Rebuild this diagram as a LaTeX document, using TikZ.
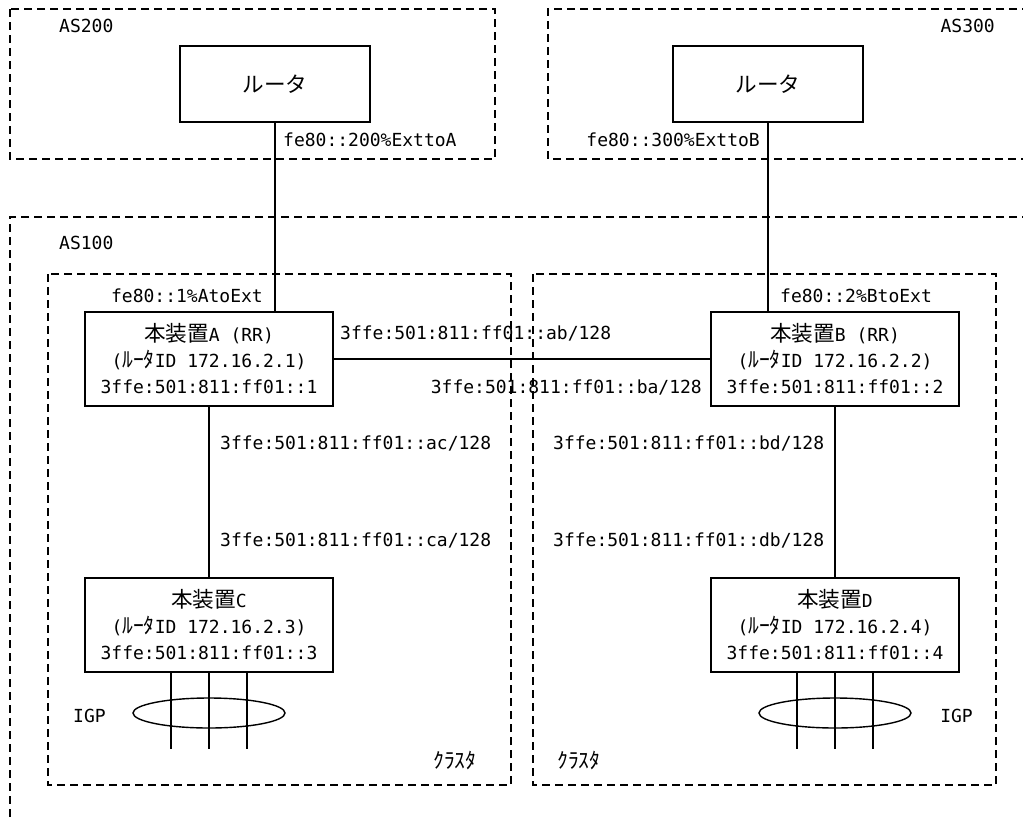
\documentclass[tikz,border=0pt]{standalone}
\usepackage{fontspec}
\setmainfont{DejaVu Sans Mono}
\newfontfamily\jp[Scale=1.2]{Noto Sans CJK JP}
\usetikzlibrary{shapes.geometric}
\begin{document}
\begin{tikzpicture}[x=1pt, y=-1pt, font=\fontsize{18}{26}\selectfont,
    box/.style={draw, line width=1.7pt, align=center, inner sep=0pt, minimum width=248pt, minimum height=94pt},
    router/.style={draw, line width=1.7pt, inner sep=0pt, minimum width=190pt, minimum height=76pt},
    area/.style={draw, line width=1.6pt, dash pattern=on 8pt off 5pt},
    link/.style={draw, line width=1.6pt},
    lbl/.style={inner sep=0pt}]
    \useasboundingbox (0,0) rectangle (1023,820);

    % AS areas
    \draw[area] (10,9) rectangle (495,159);
    \draw[area] (1030,9) -- (548,9) -- (548,159) -- (1030,159);
    \draw[area] (1030,217) -- (10,217) -- (10,830);
    \node[lbl, anchor=west] (as200) at (59,26) {AS200};
    \node[lbl, anchor=east] (as300) at (995,26) {AS300};
    \node[lbl, anchor=west] (as100) at (59,243) {AS100};

    % Clusters
    \draw[area] (48,274) rectangle (511,785);
    \draw[area] (533,274) rectangle (996,785);
    \node[lbl, anchor=west] (clusterL) at (433,760) {\jp ｸﾗｽﾀ};
    \node[lbl, anchor=west] (clusterR) at (557,760) {\jp ｸﾗｽﾀ};

    % Routers
    \node[router] (R200) at (275,84) {\jp ルータ};
    \node[router] (R300) at (768,84) {\jp ルータ};
    \node[box] (A) at (209,359) {{\jp 本装置}A (RR)\\({\jp ﾙｰﾀ}ID 172.16.2.1)\\3ffe:501:811:ff01::1};
    \node[box] (B) at (835,359) {{\jp 本装置}B (RR)\\({\jp ﾙｰﾀ}ID 172.16.2.2)\\3ffe:501:811:ff01::2};
    \node[box] (C) at (209,625) {{\jp 本装置}C\\({\jp ﾙｰﾀ}ID 172.16.2.3)\\3ffe:501:811:ff01::3};
    \node[box] (D) at (835,625) {{\jp 本装置}D\\({\jp ﾙｰﾀ}ID 172.16.2.4)\\3ffe:501:811:ff01::4};

    % Links
    \draw[link] (R200.south) -- (R200.south |- A.north);
    \draw[link] (R300.south) -- (R300.south |- B.north);
    \draw[link] (A.east) -- (B.west);
    \draw[link] (A.south) -- (C.north);
    \draw[link] (B.south) -- (D.north);

    % Interface addresses
    \node[lbl, anchor=west] (extA) at (283,140) {fe80::200\%ExttoA};
    \node[lbl, anchor=east] (extB) at (760,140) {fe80::300\%ExttoB};
    \node[lbl, anchor=east] (aExt) at (263,296) {fe80::1\%AtoExt};
    \node[lbl, anchor=west] (bExt) at (780,296) {fe80::2\%BtoExt};
    \node[lbl, anchor=west] (ab) at (340,333) {3ffe:501:811:ff01::ab/128};
    \node[lbl, anchor=east] (ba) at (702,387) {3ffe:501:811:ff01::ba/128};
    \node[lbl, anchor=west] (ac) at (220,443) {3ffe:501:811:ff01::ac/128};
    \node[lbl, anchor=west] (ca) at (220,540) {3ffe:501:811:ff01::ca/128};
    \node[lbl, anchor=west] (bd) at (553,443) {3ffe:501:811:ff01::bd/128};
    \node[lbl, anchor=west] (db) at (553,540) {3ffe:501:811:ff01::db/128};

    % IGP
    \node[draw, ellipse, line width=1.4pt, minimum width=152pt, minimum height=30pt] (igpC) at (209,713) {};
    \node[draw, ellipse, line width=1.4pt, minimum width=152pt, minimum height=30pt] (igpD) at (835,713) {};
    \foreach \dx in {-38,0,38} {
        \draw[link] ([xshift=\dx pt]C.south) -- ++(0,76);
        \draw[link] ([xshift=\dx pt]D.south) -- ++(0,76);
    }
    \node[lbl, anchor=west] (igpLblC) at (73,716) {IGP};
    \node[lbl, anchor=east] (igpLblD) at (973,716) {IGP};
\end{tikzpicture}
\end{document}
